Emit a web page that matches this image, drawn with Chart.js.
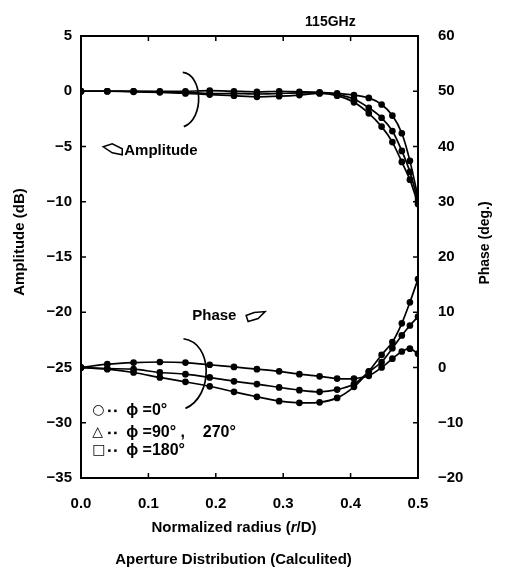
<!DOCTYPE html>
<html>
<head>
<meta charset="utf-8">
<script src="https://cdn.jsdelivr.net/npm/chart.js@4"></script>
<style>
  body { margin: 0; background: #fff; }
  canvas { display: block; }
</style>
</head>
<body>
<canvas id="chart" width="510" height="571" style="width:510px;height:571px"></canvas>
<script>
// r/D of the computed points
const radius = [0, 0.039, 0.078, 0.117, 0.155, 0.191, 0.227, 0.261, 0.294, 0.324, 0.354, 0.380, 0.405, 0.427, 0.446, 0.462, 0.476, 0.488, 0.5];

// amplitude (dB)
const ampPhi0   = [0, 0, 0, 0, 0, 0.05, 0, -0.05, 0, -0.05, -0.1, -0.2, -0.35, -0.6, -1.2, -2.2, -3.8, -6.3, -9.6];
const ampPhi90  = [0, 0, 0, -0.05, -0.1, -0.2, -0.2, -0.25, -0.2, -0.15, -0.15, -0.3, -0.7, -1.5, -2.4, -3.6, -5.4, -7.3, -9.9];
const ampPhi180 = [0, 0, -0.05, -0.1, -0.2, -0.3, -0.4, -0.5, -0.45, -0.35, -0.2, -0.4, -1.0, -2.0, -3.2, -4.6, -6.4, -8.0, -10.2];

// phase (deg.)
const phasePhi180 = [0, 0.6, 0.9, 1.0, 0.9, 0.5, 0.1, -0.3, -0.7, -1.2, -1.6, -2.0, -2.0, -1.5, 0.0, 1.6, 2.9, 3.4, 2.5];
const phasePhi0   = [0, -0.2, -0.3, -0.9, -1.2, -1.8, -2.5, -3.0, -3.6, -4.1, -4.4, -4.0, -3.0, -0.8, 1.0, 3.5, 5.8, 7.6, 9.2];
const phasePhi90  = [0, -0.3, -0.9, -1.8, -2.6, -3.4, -4.4, -5.3, -6.1, -6.4, -6.3, -5.5, -3.5, -0.7, 2.3, 4.6, 8.0, 11.8, 16.0];

const xTicks = [0, 0.1, 0.2, 0.3, 0.4, 0.5];
const ampTicks = [5, 0, -5, -10, -15, -20, -25, -30, -35];
const phaseTicks = [60, 50, 40, 30, 20, 10, 0, -10, -20];

const FONT = "'Liberation Sans', Arial, sans-serif";

function pts(ys) {
    return radius.map((r, i) => ({ x: r, y: ys[i] }));
}

function series(label, ys, axis) {
    return {
        label: label,
        data: pts(ys),
        yAxisID: axis,
        borderColor: '#000',
        backgroundColor: '#000',
        borderWidth: 1.7,
        pointRadius: 2.5,
        pointStyle: 'circle',
        tension: 0.25
    };
}

function minus(v) {
    return v < 0 ? '\u2212' + Math.abs(v) : String(v);
}

// frame, inward ticks and the hand-written notes
const decor = {
    id: 'decor',
    afterDraw(chart) {
        const ctx = chart.ctx;
        const a = chart.chartArea;
        const sx = chart.scales.x, sy = chart.scales.y, s2 = chart.scales.y2;
        ctx.save();
        ctx.strokeStyle = '#000';
        ctx.fillStyle = '#000';
        ctx.lineWidth = 2;
        ctx.strokeRect(a.left, a.top, a.right - a.left, a.bottom - a.top);

        ctx.lineWidth = 1.5;
        ctx.beginPath();
        xTicks.slice(1, -1).forEach(v => {
            const px = sx.getPixelForValue(v);
            ctx.moveTo(px, a.bottom); ctx.lineTo(px, a.bottom - 5);
            ctx.moveTo(px, a.top); ctx.lineTo(px, a.top + 5);
        });
        ampTicks.slice(1, -1).forEach(v => {
            const py = sy.getPixelForValue(v);
            ctx.moveTo(a.left, py); ctx.lineTo(a.left + 5, py);
        });
        phaseTicks.slice(1, -1).forEach(v => {
            const py = s2.getPixelForValue(v);
            ctx.moveTo(a.right, py); ctx.lineTo(a.right - 5, py);
        });
        ctx.stroke();

        // brackets
        ctx.lineWidth = 1.7;
        ctx.beginPath();
        const bx = sx.getPixelForValue(0.151);
        let top = sy.getPixelForValue(1.7), bot = sy.getPixelForValue(-3.2);
        ctx.moveTo(bx, top);
        ctx.bezierCurveTo(bx + 20, top + 2, bx + 22, bot - 8, bx + 1, bot);
        const bx2 = sx.getPixelForValue(0.152);
        top = sy.getPixelForValue(-22.4); bot = sy.getPixelForValue(-28.7);
        ctx.moveTo(bx2, top);
        ctx.bezierCurveTo(bx2 + 30, top + 4, bx2 + 30, bot - 12, bx2 + 2, bot);
        ctx.stroke();

        // small sketches next to the notes
        const ax = sx.getPixelForValue(0.033), ay = sy.getPixelForValue(-5.3);
        ctx.lineWidth = 1.5;
        ctx.beginPath();
        ctx.moveTo(ax, ay - 3);
        ctx.lineTo(ax + 9, ay - 6);
        ctx.lineTo(ax + 19, ay - 1);
        ctx.lineTo(ax + 19, ay + 5);
        ctx.lineTo(ax + 9, ay + 3);
        ctx.closePath();
        ctx.stroke();
        const qx = sx.getPixelForValue(0.245), qy = sy.getPixelForValue(-20.3);
        ctx.beginPath();
        ctx.moveTo(qx, qy);
        ctx.lineTo(qx + 8, qy - 3);
        ctx.lineTo(qx + 19, qy - 4);
        ctx.lineTo(qx + 12, qy + 3);
        ctx.lineTo(qx + 2, qy + 6);
        ctx.closePath();
        ctx.stroke();

        ctx.font = 'bold 15px ' + FONT;
        ctx.textBaseline = 'middle';
        ctx.textAlign = 'left';
        ctx.fillText('Amplitude', ax + 21, ay + 1);
        ctx.fillText('Phase', sx.getPixelForValue(0.165), qy);

        // legend notes
        const lx = sx.getPixelForValue(0.018);
        const rows = [
            ['\u25CB', '\u03D5 =0\u00B0', sy.getPixelForValue(-28.9)],
            ['\u25B3', '\u03D5 =90\u00B0 ,    270\u00B0', sy.getPixelForValue(-30.9)],
            ['\u25A1', '\u03D5 =180\u00B0', sy.getPixelForValue(-32.5)]
        ];
        rows.forEach(r => {
            ctx.font = 'bold 14px DejaVu Sans';
            ctx.fillText(r[0], lx - 1, r[2]);
            ctx.fillRect(lx + 15, r[2] - 1, 2.5, 2.5);
            ctx.fillRect(lx + 21, r[2] - 1, 2.5, 2.5);
            ctx.font = 'bold 16px ' + FONT;
            ctx.fillText(r[1], lx + 33, r[2]);
        });

        // titles
        ctx.font = 'bold 14px ' + FONT;
        ctx.textAlign = 'center';
        ctx.fillText('115GHz', sx.getPixelForValue(0.37), 22);
        ctx.font = 'bold 15px ' + FONT;
        ctx.fillText('Aperture Distribution (Calculited)', (95 + 372) / 2, 560);
        ctx.restore();

        ctx.save();
        ctx.textAlign = 'left';
        ctx.textBaseline = 'middle';
        const parts = [['Normalized radius (', 'bold 15px '], ['r', 'italic bold 15px '], ['/D)', 'bold 15px ']];
        let total = 0;
        parts.forEach(p => { ctx.font = p[1] + FONT; total += ctx.measureText(p[0]).width; });
        let px = 234 - total / 2;
        parts.forEach(p => {
            ctx.font = p[1] + FONT;
            ctx.fillText(p[0], px, 528);
            px += ctx.measureText(p[0]).width;
        });

        ctx.font = 'bold 15px ' + FONT;
        ctx.translate(20, 242);
        ctx.rotate(-Math.PI / 2);
        ctx.textAlign = 'center';
        ctx.fillText('Amplitude (dB)', 0, 0);
        ctx.restore();

        ctx.save();
        ctx.font = 'bold 14px ' + FONT;
        ctx.textAlign = 'center';
        ctx.textBaseline = 'middle';
        ctx.translate(485, 243);
        ctx.rotate(-Math.PI / 2);
        ctx.fillText('Phase (deg.)', 0, 0);
        ctx.restore();
    }
};

new Chart(document.getElementById('chart'), {
    type: 'line',
    data: {
        datasets: [
            series('amp \u03D5=0', ampPhi0, 'y'),
            series('amp \u03D5=90', ampPhi90, 'y'),
            series('amp \u03D5=180', ampPhi180, 'y'),
            series('phase \u03D5=180', phasePhi180, 'y2'),
            series('phase \u03D5=0', phasePhi0, 'y2'),
            series('phase \u03D5=90', phasePhi90, 'y2')
        ]
    },
    options: {
        responsive: false,
        animation: false,
        devicePixelRatio: 1,
        layout: { padding: { top: 36, left: 0, right: 0, bottom: 0 } },
        plugins: { legend: { display: false }, tooltip: { enabled: false } },
        scales: {
            x: {
                type: 'linear', min: 0, max: 0.5,
                afterBuildTicks: s => { s.ticks = xTicks.map(v => ({ value: v })); },
                afterFit: s => { s.height = 93; },
                grid: { display: false, drawTicks: false },
                border: { display: false },
                ticks: {
                    padding: 17, color: '#000', maxRotation: 0,
                    font: { family: FONT, size: 15, weight: 'bold' },
                    callback: v => v.toFixed(1)
                }
            },
            y: {
                position: 'left', min: -35, max: 5,
                afterBuildTicks: s => { s.ticks = ampTicks.map(v => ({ value: v })); },
                afterFit: s => { s.width = 81; },
                grid: { display: false, drawTicks: false },
                border: { display: false },
                ticks: {
                    padding: 9, color: '#000',
                    font: { family: FONT, size: 15, weight: 'bold' },
                    callback: v => minus(v)
                }
            },
            y2: {
                position: 'right', min: -20, max: 60,
                afterBuildTicks: s => { s.ticks = phaseTicks.map(v => ({ value: v })); },
                afterFit: s => { s.width = 92; },
                grid: { display: false, drawTicks: false },
                border: { display: false },
                ticks: {
                    padding: 20, color: '#000',
                    font: { family: FONT, size: 15, weight: 'bold' },
                    callback: v => minus(v)
                }
            }
        }
    },
    plugins: [decor]
});
</script>
</body>
</html>
